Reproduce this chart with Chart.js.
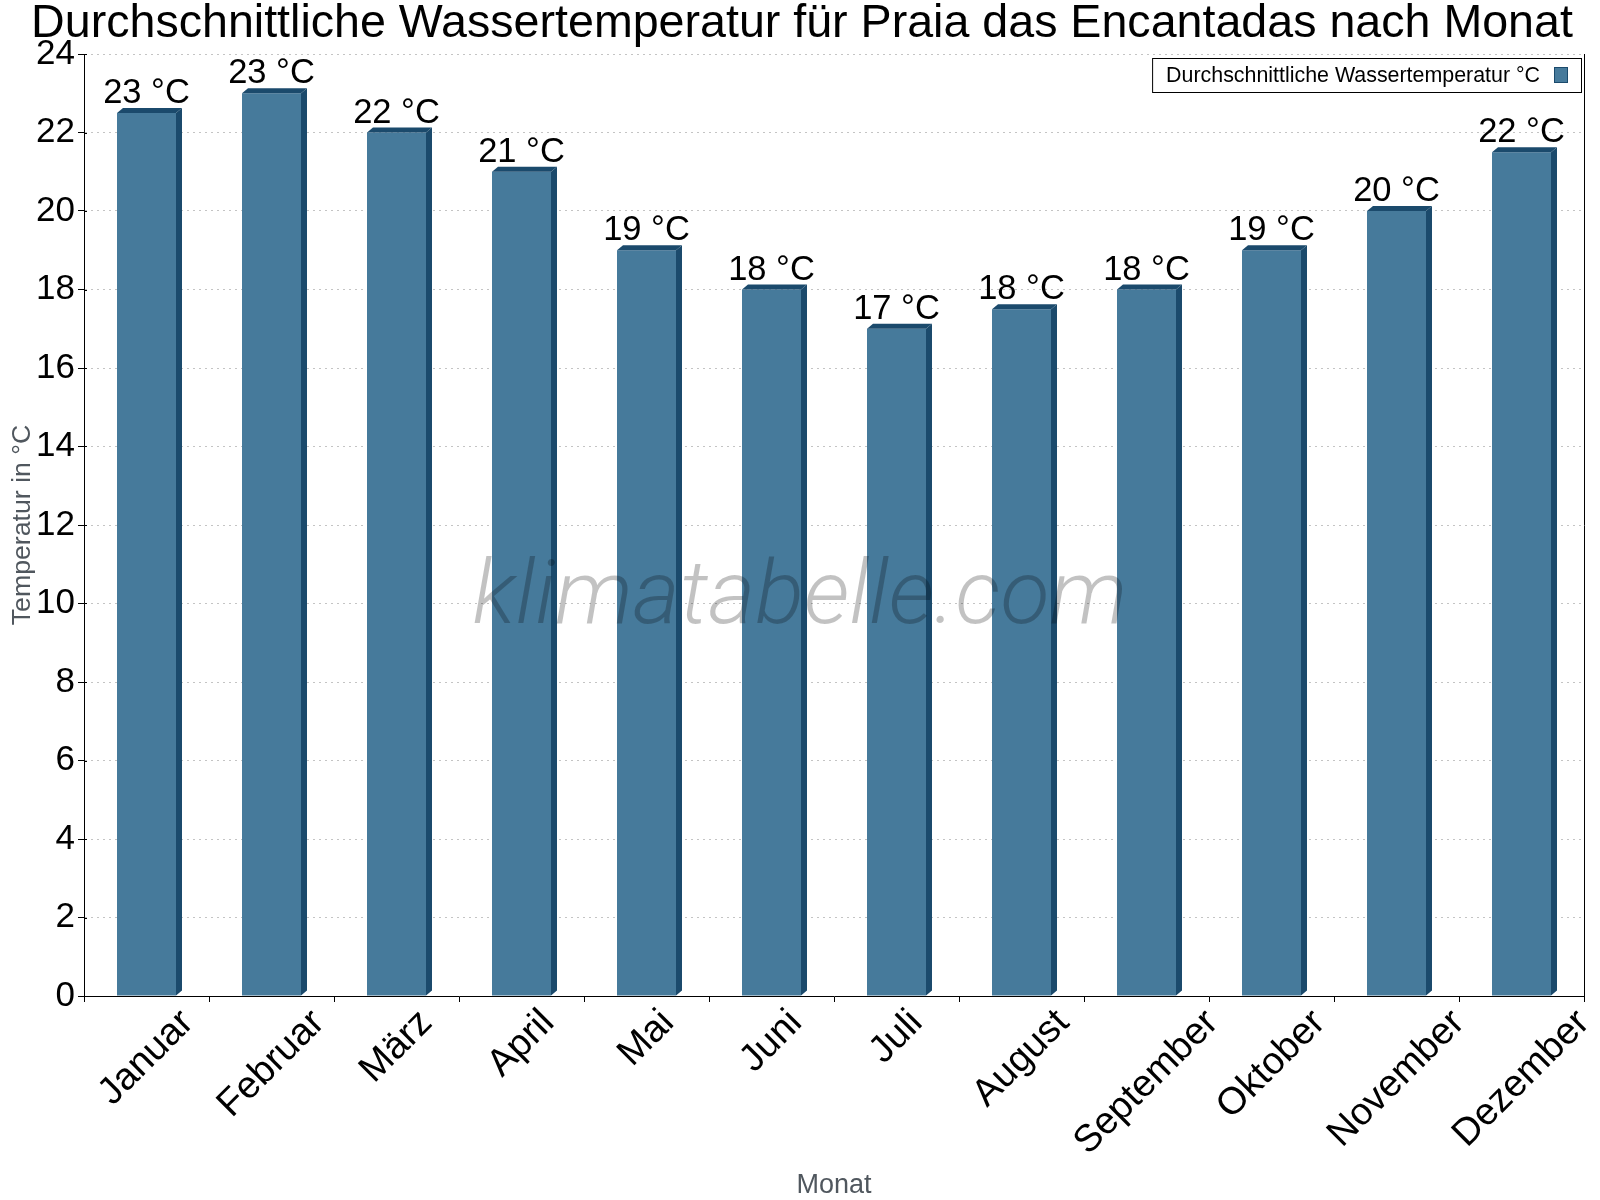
<!DOCTYPE html>
<html lang="de">
<head>
<meta charset="utf-8">
<title>Wassertemperatur Praia das Encantadas</title>
<script src="https://cdn.jsdelivr.net/npm/chart.js@4.4.1/dist/chart.umd.min.js"></script>
<style>
  html, body { margin: 0; padding: 0; background: #fff; }
  #wrap { width: 1600px; height: 1200px; }
</style>
</head>
<body>
<div id="wrap"><canvas id="tempChart" width="1600" height="1200"></canvas></div>
<script>
const months = ["Januar", "Februar", "März", "April", "Mai", "Juni", "Juli", "August", "September", "Oktober", "November", "Dezember"];
const waterTemp = [22.5, 23, 22, 21, 19, 18, 17, 17.5, 18, 19, 20, 21.5];
const yTicks = [0, 2, 4, 6, 8, 10, 12, 14, 16, 18, 20, 22, 24];

const chartTitle = "Durchschnittliche Wassertemperatur für Praia das Encantadas nach Monat";
const seriesLabel = "Durchschnittliche Wassertemperatur °C";
const yTitle = "Temperatur in °C";
const xTitle = "Monat";
const watermark = "klimatabelle.com";

const FONT = "'Liberation Sans', Arial, sans-serif";
const FRONT = "#467a9b";
const DARK = "#1b4a6c";
const DEPTH_X = 6, DEPTH_Y = 5;

// draws the fake 3d sides, value labels, texts, legend and watermark
const extras = {
    id: "extras",
    afterDatasetsDraw(chart) {
        const ctx = chart.ctx;
        const meta = chart.getDatasetMeta(0);
        ctx.save();
        meta.data.forEach((bar, i) => {
            const l = bar.x - bar.width / 2;
            const r = bar.x + bar.width / 2;
            ctx.fillStyle = DARK;
            // side
            ctx.beginPath();
            ctx.moveTo(r, bar.y);
            ctx.lineTo(r + DEPTH_X, bar.y - DEPTH_Y);
            ctx.lineTo(r + DEPTH_X, bar.base - DEPTH_Y);
            ctx.lineTo(r, bar.base);
            ctx.closePath();
            ctx.fill();
            // top
            ctx.beginPath();
            ctx.moveTo(l, bar.y);
            ctx.lineTo(l + DEPTH_X, bar.y - DEPTH_Y);
            ctx.lineTo(r + DEPTH_X, bar.y - DEPTH_Y);
            ctx.lineTo(r, bar.y);
            ctx.closePath();
            ctx.fill();

            ctx.fillStyle = "#000";
            ctx.font = "34.5px " + FONT;
            ctx.textAlign = "center";
            ctx.textBaseline = "alphabetic";
            ctx.fillText(Math.round(waterTemp[i]) + " °C", bar.x, bar.y - DEPTH_Y - 5);
        });
        ctx.restore();
    },
    afterDraw(chart) {
        const ctx = chart.ctx;
        const area = chart.chartArea;
        const xScale = chart.scales.x;
        const yScale = chart.scales.y;
        ctx.save();

        // small inner part of the y ticks
        ctx.strokeStyle = "#000";
        ctx.lineWidth = 1;
        yTicks.forEach(v => {
            const py = Math.round(yScale.getPixelForValue(v)) + 0.5;
            ctx.beginPath();
            ctx.moveTo(area.left, py);
            ctx.lineTo(area.left + 3, py);
            ctx.stroke();
        });

        // title
        ctx.fillStyle = "#000";
        ctx.font = "46.6px " + FONT;
        ctx.textAlign = "center";
        ctx.textBaseline = "alphabetic";
        ctx.fillText(chartTitle, 802, 37);

        // x tick labels, rotated around their centre
        ctx.font = "38px " + FONT;
        months.forEach((m, i) => {
            const w = ctx.measureText(m).width;
            const h = 28;
            const cx = xScale.getPixelForValue(i);
            const cy = area.bottom + 11 + (w + h) * Math.SQRT1_2 / 2;
            ctx.save();
            ctx.translate(cx, cy);
            ctx.rotate(-Math.PI / 4);
            ctx.textAlign = "center";
            ctx.textBaseline = "middle";
            ctx.fillText(m, 0, 0);
            ctx.restore();
        });

        // axis titles
        ctx.fillStyle = "#50575e";
        ctx.font = "27px " + FONT;
        ctx.textAlign = "center";
        ctx.fillText(xTitle, (area.left + area.right) / 2, 1193);
        ctx.save();
        ctx.translate(30, (area.top + area.bottom) / 2);
        ctx.rotate(-Math.PI / 2);
        ctx.font = "26.7px " + FONT;
        ctx.fillText(yTitle, 0, 0);
        ctx.restore();

        // legend box, top right inside the plot
        ctx.font = "21.4px " + FONT;
        const tw = ctx.measureText(seriesLabel).width;
        const boxR = 1581, boxT = 58, boxB = 92;
        const swL = 1554, swW = 13;
        const textL = swL - 14 - tw;
        const boxL = textL - 14;
        ctx.fillStyle = "#fff";
        ctx.fillRect(boxL, boxT, boxR - boxL, boxB - boxT);
        ctx.strokeStyle = "#000";
        ctx.lineWidth = 1;
        ctx.strokeRect(boxL + 0.5, boxT + 0.5, boxR - boxL, boxB - boxT);
        ctx.fillStyle = "#000";
        ctx.textAlign = "left";
        ctx.fillText(seriesLabel, textL, 82);
        ctx.fillStyle = FRONT;
        ctx.fillRect(swL, 67, swW, 15);
        ctx.strokeStyle = DARK;
        ctx.strokeRect(swL + 0.5, 67.5, swW, 15);

        // watermark
        ctx.fillStyle = "rgba(0, 0, 0, 0.24)";
        ctx.font = "italic 300 89px Roboto, 'Liberation Sans', sans-serif";
        const ww = ctx.measureText(watermark).width;
        ctx.translate(800, 623);
        ctx.scale(655 / ww, 1);
        ctx.textAlign = "center";
        ctx.fillText(watermark, 0, 0);

        ctx.restore();
    }
};

new Chart(document.getElementById("tempChart"), {
    type: "bar",
    data: {
        labels: months,
        datasets: [{
            label: seriesLabel,
            data: waterTemp,
            backgroundColor: FRONT,
            borderWidth: 0,
            categoryPercentage: 1,
            barPercentage: 0.472
        }]
    },
    options: {
        responsive: false,
        animation: false,
        devicePixelRatio: 1,
        layout: { padding: { top: 54, bottom: 198, left: 0, right: 0 } },
        plugins: {
            legend: { display: false },
            title: { display: false },
            tooltip: { enabled: false }
        },
        scales: {
            x: {
                ticks: { display: false },
                grid: { drawOnChartArea: false, tickColor: "#000", tickLength: 6 },
                border: { color: "#000" }
            },
            y: {
                min: 0,
                max: 24,
                afterBuildTicks(scale) {
                    scale.ticks = yTicks.map(v => ({ value: v }));
                },
                afterFit(scale) {
                    scale.width = 84;
                    scale.paddingTop = 0;
                    scale.paddingBottom = 0;
                },
                ticks: { color: "#000", font: { size: 35, family: FONT }, padding: 3 },
                grid: { color: "#c4c4c4", tickColor: "#000", tickLength: 6, tickBorderDash: [] },
                border: { color: "#000", dash: [2, 4] }
            },
            y2: {
                position: "right",
                min: 0,
                max: 24,
                ticks: { display: false },
                grid: { drawOnChartArea: false, drawTicks: false },
                border: { color: "#000" },
                afterFit(scale) {
                    scale.width = 16;
                }
            }
        }
    },
    plugins: [extras]
});
</script>
</body>
</html>
